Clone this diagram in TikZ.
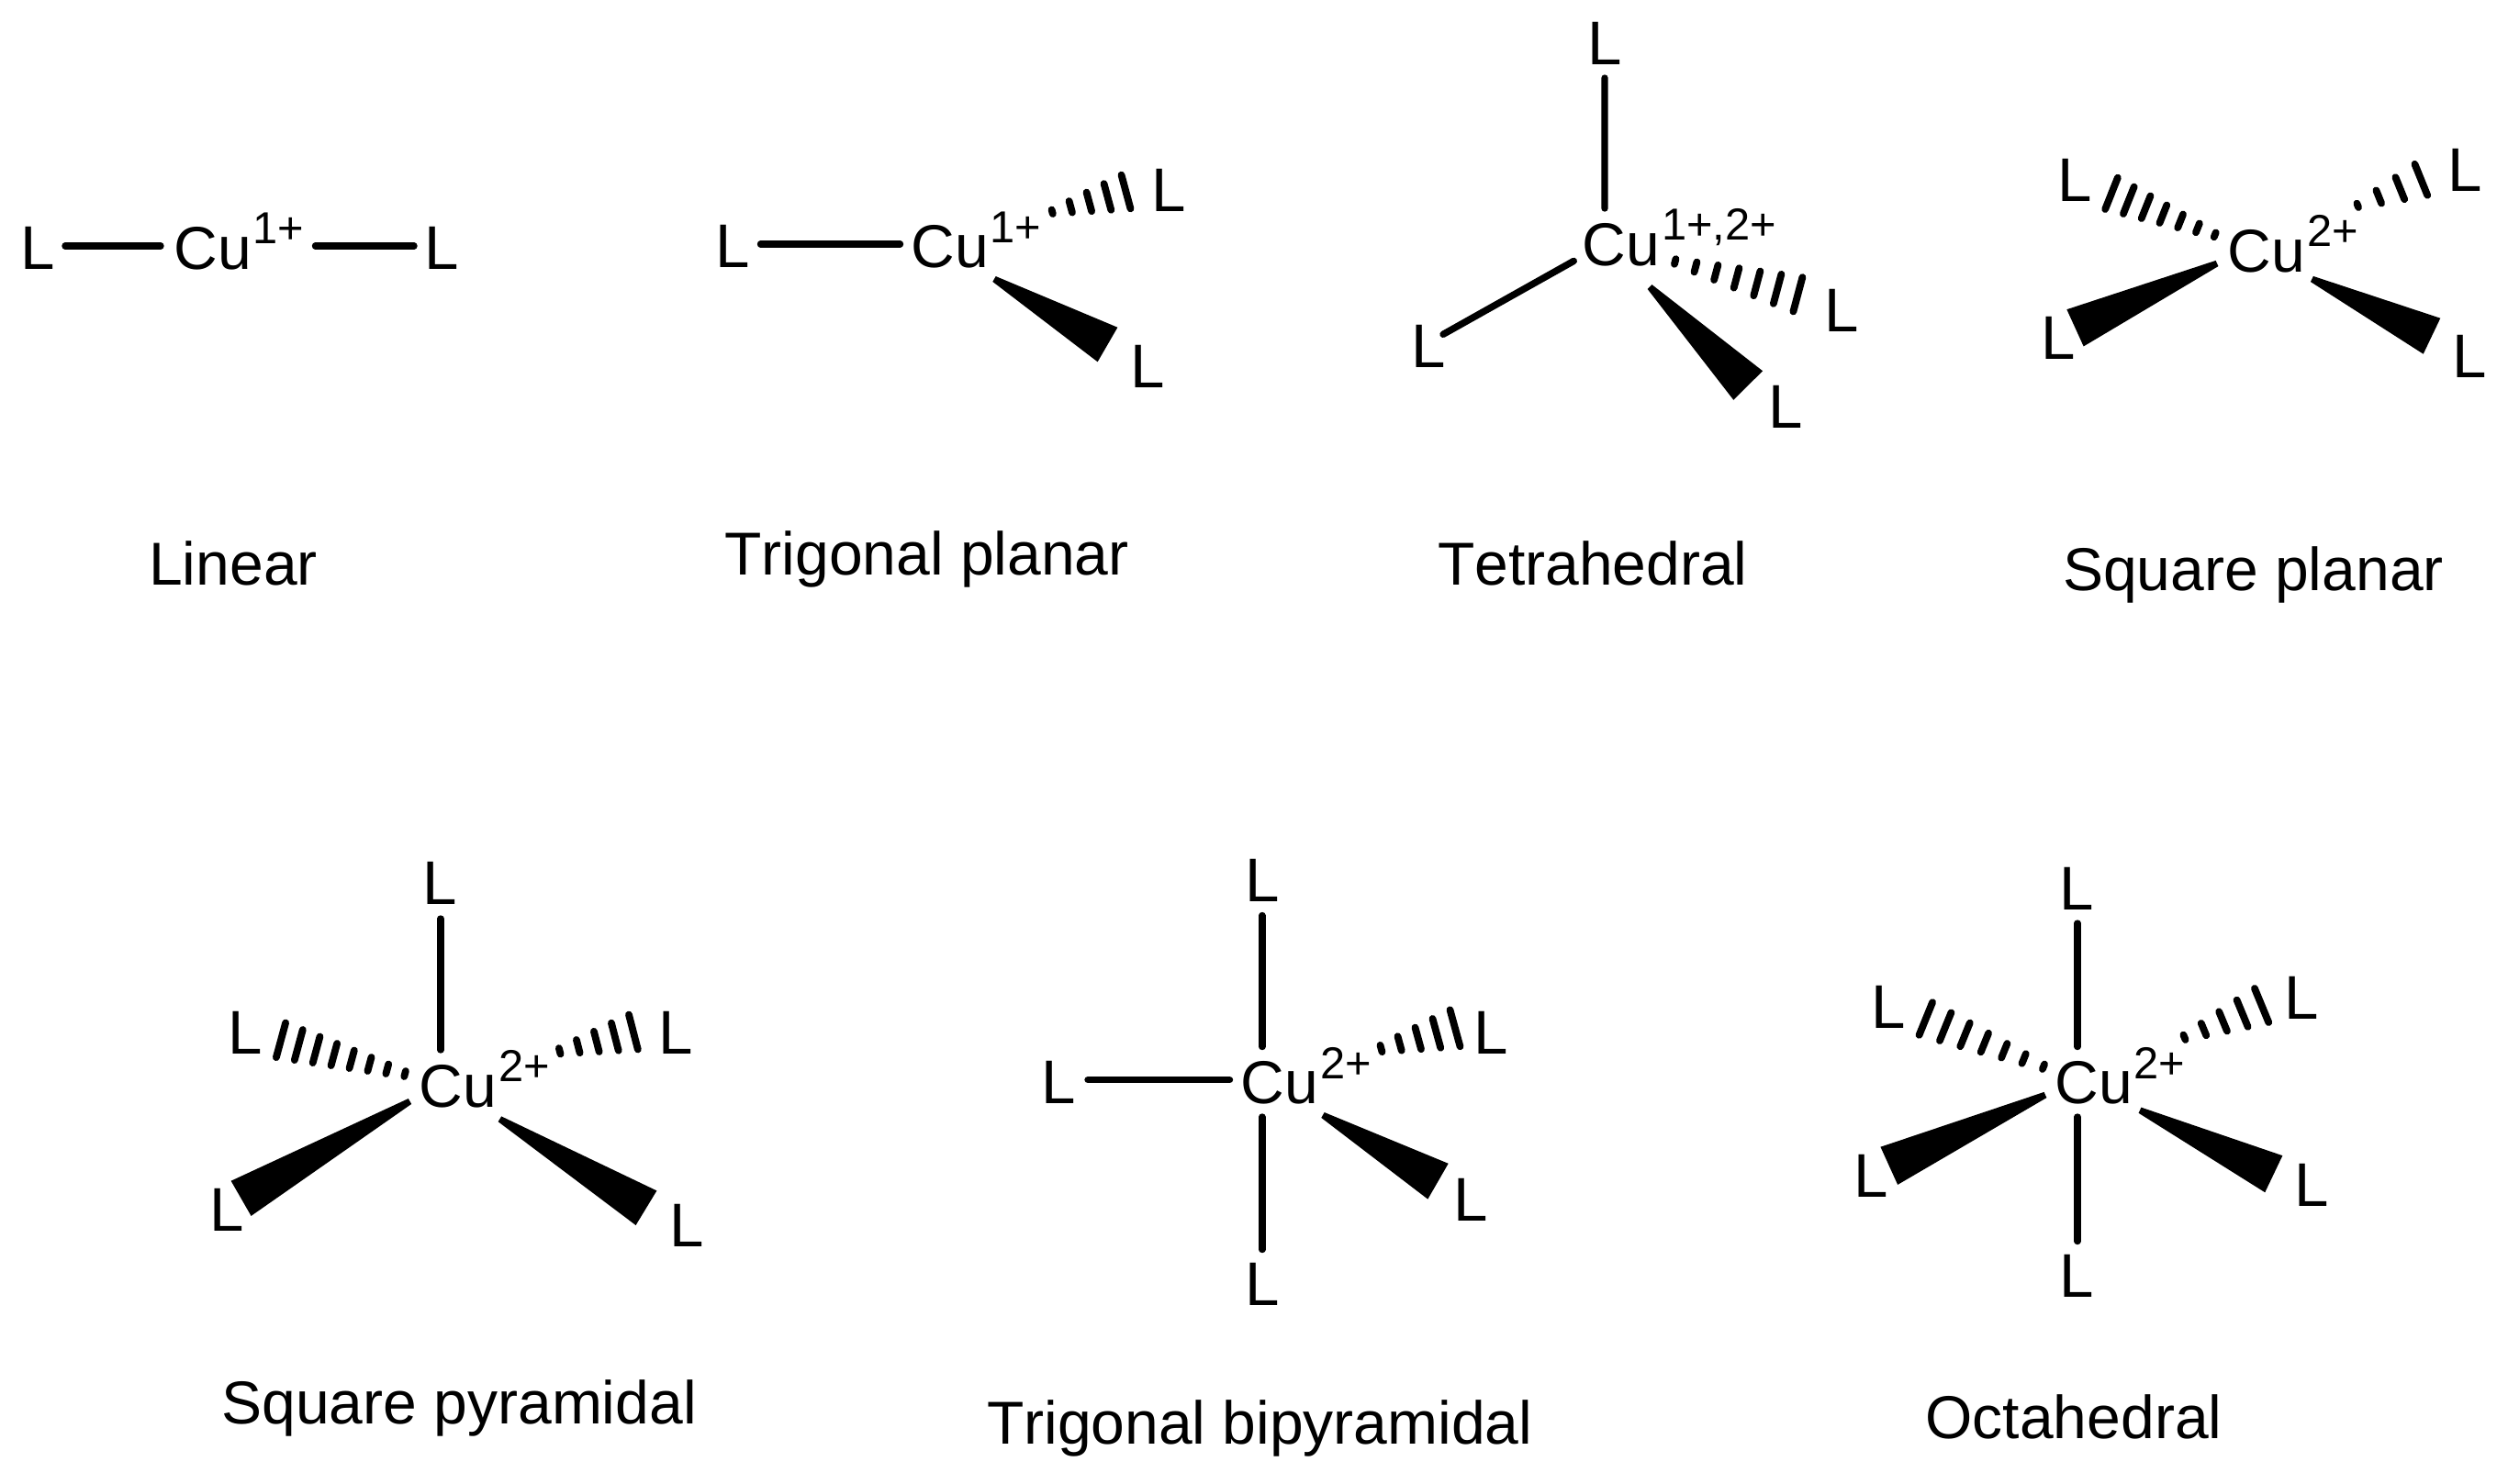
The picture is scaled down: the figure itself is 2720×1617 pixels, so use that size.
\documentclass[tikz,border=0pt]{standalone}
\usepackage{fontspec}
\setmainfont[Kerning=Off]{Liberation Sans}
\usetikzlibrary{calc}
\tikzset{
  bond/.style={line width=3.7pt,line cap=round,black},
  hashstroke/.style={line width=3.9pt,line cap=round,black},
  lig/.style={anchor=base,inner sep=0pt,font=\fontsize{33.6}{40}\selectfont},
  cuatom/.style={anchor=base west,inner sep=0pt,font=\fontsize{33}{40}\selectfont},
  caption/.style={anchor=base,inner sep=0pt,font=\fontsize{33}{40}\selectfont}
}
\newcommand\cuion[1]{Cu\kern1pt\raisebox{13.6pt}{\fontsize{24.4}{28}\selectfont #1}}
% plain bond: first end on a ligand or Cu node, second end on the other
\newcommand\ligcu[4]{\draw[bond] ([shift={(#2)}]#1.base) -- ([shift={(#4)}]#3.base west);}
\newcommand\culig[4]{\draw[bond] ([shift={(#2)}]#1.base west) -- ([shift={(#4)}]#3.base);}
% hashed bond: cu, offset, ligand, offset, start half, end half, strokes
\newcommand\hashbond[7]{%
  \coordinate (hA) at ([shift={(#2)}]#1.base west);
  \coordinate (hB) at ([shift={(#4)}]#3.base);
  \coordinate (hC) at ($(hA)!2!(hB)$);
  \pgfmathtruncatemacro\hlast{#7-1}
  \foreach \hi in {0,...,\hlast}{
    \pgfmathsetmacro\hfrac{\hi/\hlast}
    \pgfmathsetmacro\hhalf{(#5-0.7+\hfrac*(#6-#5))*0.5}
    \draw[hashstroke] ($(hA)!\hfrac!(hB)!\hhalf pt!90:(hC)$) -- ($(hA)!\hfrac!(hB)!\hhalf pt!-90:(hC)$);
  }}
% wedge bond: cu, offset, ligand, offset, base half width
\newcommand\wedgebond[5]{%
  \coordinate (wT) at ([shift={(#2)}]#1.base west);
  \coordinate (wB) at ([shift={(#4)}]#3.base);
  \coordinate (wC) at ($(wT)!2!(wB)$);
  \pgfmathsetmacro\whalf{#5*0.5}
  \fill[black] ($(wT)!1.7pt!90:(wC)$) -- ($(wT)!1.7pt!-90:(wC)$) -- ($(wB)!\whalf pt!-90:(wC)$) -- ($(wB)!\whalf pt!90:(wC)$) -- cycle;}
\begin{document}
\begin{tikzpicture}[x=0.5pt,y=-0.5pt]
\useasboundingbox[fill=white] (0,0) rectangle (2720,1617);

% Linear
\node[cuatom] (cuA) at (189,293) {\cuion{1+}};
\node[lig] (lA1) at (41,293) {L};
\node[lig] (lA2) at (481,293) {L};
\ligcu{lA1}{30,-25}{cuA}{-14,-25}
\culig{cuA}{154.5,-25}{lA2}{-30,-25}
\node[caption] (capA) at (254,637.3) {Linear};

% Trigonal planar
\node[cuatom] (cuB) at (992,291.7) {\cuion{1+}};
\node[lig] (lB1) at (798,291.7) {L};
\node[lig] (lB2) at (1273,230) {L};
\node[lig] (lB3) at (1249.7,422.7) {L};
\ligcu{lB1}{30.5,-25.7}{cuB}{-11.5,-25.7}
\hashbond{cuB}{154.2,-60.9}{lB2}{-46.5,-21}{3}{19.7}{5}
\wedgebond{cuB}{91,12.3}{lB3}{-43.2,-47.2}{21.7}
\node[caption] (capB) at (1009.5,626.7) {Trigonal planar};

% Tetrahedral
\node[cuatom] (cuC) at (1723.5,289) {\cuion{1+,2+}};
\node[lig] (lC1) at (1747.8,70) {L};
\node[lig] (lC2) at (1556.4,400.7) {L};
\node[lig] (lC3) at (2005.7,361.7) {L};
\node[lig] (lC4) at (1944.8,466) {L};
\culig{cuC}{24.5,-62}{lC1}{0.2,15}
\culig{cuC}{-9.2,-4.6}{lC2}{15.6,-36.4}
\hashbond{cuC}{101.2,-4}{lC3}{-47.3,-40.9}{3.6}{20}{7}
\wedgebond{cuC}{73.5,23.5}{lC4}{-40.6,-46}{22.4}
\node[caption] (capC) at (1734.9,637.7) {Tetrahedral};

% Square planar
\node[cuatom] (cuD) at (2426.3,296) {\cuion{2+}};
\node[lig] (lD1) at (2260,219) {L};
\node[lig] (lD2) at (2684.7,208.3) {L};
\node[lig] (lD3) at (2241.7,391) {L};
\node[lig] (lD4) at (2690,411) {L};
\hashbond{cuD}{-13.6,-40.2}{lD1}{40,-8.2}{3.3}{19.2}{7}
\hashbond{cuD}{141.9,-72.2}{lD2}{-47.4,-12.5}{3}{19}{4}
\wedgebond{cuD}{-11.3,-9}{lD3}{18.8,-33.7}{22.1}
\wedgebond{cuD}{92.1,8}{lD4}{-41,-44.8}{21.6}
\node[caption] (capD) at (2454.5,643.3) {Square planar};

% Square pyramidal
\node[cuatom] (cuE) at (456.5,1206) {\cuion{2+}};
\node[lig] (lE1) at (479.4,985) {L};
\node[lig] (lE2) at (266.7,1148.3) {L};
\node[lig] (lE3) at (736.2,1148.3) {L};
\node[lig] (lE4) at (246.8,1341.7) {L};
\node[lig] (lE5) at (747.8,1358.3) {L};
\culig{cuE}{23.5,-62}{lE1}{0.6,16}
\hashbond{cuE}{-15.4,-36}{lE2}{39.3,-15}{3.8}{20.2}{8}
\hashbond{cuE}{153.2,-60.7}{lE3}{-46.3,-23.8}{4}{20.3}{5}
\wedgebond{cuE}{-10,-6}{lE4}{15.8,-35.9}{22}
\wedgebond{cuE}{87.9,13.3}{lE5}{-43.8,-42.1}{22}
\node[caption] (capE) at (500.2,1551) {Square pyramidal};

% Trigonal bipyramidal
\node[cuatom] (cuF) at (1351.5,1202.7) {\cuion{2+}};
\node[lig] (lF1) at (1374.7,982.3) {L};
\node[lig] (lF2) at (1153.5,1202.7) {L};
\node[lig] (lF3) at (1374.7,1422.3) {L};
\node[lig] (lF4) at (1624.4,1148.3) {L};
\node[lig] (lF5) at (1602.6,1330) {L};
\culig{cuF}{23.3,-62.2}{lF1}{0.1,15.2}
\culig{cuF}{-12,-26}{lF2}{31.5,-26}
\culig{cuF}{23.3,14.3}{lF3}{0.1,-60.8}
\hashbond{cuF}{153,-60.2}{lF4}{-39.4,-28}{4.5}{21.4}{5}
\wedgebond{cuF}{89.5,12.3}{lF5}{-36.1,-42.8}{22.4}
\node[caption] (capF) at (1372.3,1573.3) {Trigonal bipyramidal};

% Octahedral
\node[cuatom] (cuG) at (2238,1202.7) {\cuion{2+}};
\node[lig] (lG1) at (2262,991.7) {L};
\node[lig] (lG2) at (2262,1413.3) {L};
\node[lig] (lG3) at (2057.3,1120) {L};
\node[lig] (lG4) at (2507.6,1110.7) {L};
\node[lig] (lG5) at (2038.4,1304.3) {L};
\node[lig] (lG6) at (2518.5,1314.3) {L};
\culig{cuG}{25,-62.2}{lG1}{1,14.3}
\culig{cuG}{25,14.3}{lG2}{1,-60.8}
\hashbond{cuG}{-12,-40.5}{lG3}{40.5,-10}{3.6}{20}{7}
\hashbond{cuG}{141.5,-72.4}{lG4}{-44,-15.2}{3.6}{20.8}{5}
\wedgebond{cuG}{-10,-9.7}{lG5}{19.4,-34}{22.6}
\wedgebond{cuG}{93,7}{lG6}{-41.7,-35.1}{22.2}
\node[caption] (capG) at (2259,1567.3) {Octahedral};
\end{tikzpicture}
\end{document}
